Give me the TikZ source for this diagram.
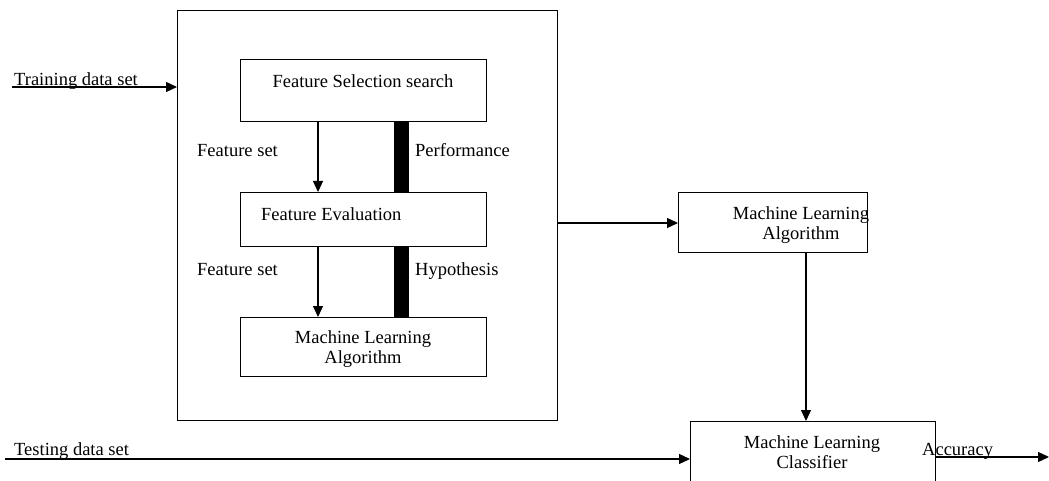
\documentclass[tikz,border=0pt]{standalone}
\usepackage{fontspec}
\setmainfont{Liberation Serif}
\usetikzlibrary{arrows.meta,positioning}
\begin{document}
\begin{tikzpicture}[x=1pt,y=-1pt,
  every node/.style={font=\fontsize{18.5}{19}\selectfont},
  blk/.style={draw,line width=1.4pt,inner sep=0pt},
  arr/.style={line width=1.2pt,-{Triangle[length=11pt,width=10pt]}},
  bar/.style={line width=15pt},
  two/.style={align=center,font=\fontsize{18.5}{19.5}\selectfont},
  lbl/.style={anchor=west,inner sep=0pt}]
\useasboundingbox (0,0) rectangle (1049,481);
\clip (0,0) rectangle (1049,481);
\fill[white] (0,0) rectangle (1049,481);
% outer box
\node[blk,minimum width=380pt,minimum height=410pt,anchor=north west] (outer) at (177,10) {};
% inner boxes
\node[blk,minimum width=246pt,minimum height=62pt,anchor=north west] (fss) at (240,59) {};
\node[anchor=base] (fsst) at (363,88) {Feature Selection search};
\node[blk,minimum width=246pt,minimum height=54pt,anchor=north west] (fe) at (240,192) {};
\node[lbl,anchor=base west] (fet) at (261,221) {Feature Evaluation};
\node[blk,minimum width=246pt,minimum height=59pt,anchor=north west] (mla1) at (240,317) {};
\node[two] (mla1t) at (363,349) {Machine Learning\\Algorithm};
% arrows inside
\coordinate (a1s) at (318,121);
\coordinate (a1e) at (318,192);
\draw[arr] (a1s) -- (a1e);
\coordinate (a2s) at (318,246);
\coordinate (a2e) at (318,317);
\draw[arr] (a2s) -- (a2e);
\coordinate (b1s) at (401,121);
\coordinate (b1e) at (401,192);
\draw[bar] (b1s) -- (b1e);
\coordinate (b2s) at (401,246);
\coordinate (b2e) at (401,317);
\draw[bar] (b2s) -- (b2e);
\node[lbl,anchor=base west] (fs1) at (197,157) {Feature set};
\node[lbl,anchor=base west] (fs2) at (197,275) {Feature set};
\node[lbl,anchor=base west] (perf) at (415,157) {Performance};
\node[lbl,anchor=base west] (hyp) at (415,275) {Hypothesis};
% training
\coordinate (tr) at (12,87);
\node[lbl,anchor=base west] (trt) at (14,86) {Training data set};
\draw[arr] (tr) -- (tr -| outer.west);
% right MLA
\node[blk,minimum width=189pt,minimum height=60pt,anchor=north west] (mla2) at (678,192) {};
\node[two] (mla2t) at (801,225) {Machine Learning\\Algorithm};
\coordinate (o2) at (557,223);
\draw[arr] (o2) -- (o2 -| mla2.west);
% classifier
\node[blk,minimum width=245pt,minimum height=80pt,anchor=north west] (clf) at (690,421) {};
\node[two] (clft) at (812,452) {Machine Learning\\Classifier};
\draw[arr] (mla2.south -| 806,0) -- (806,421);
% testing
\coordinate (te) at (5,459);
\node[lbl,anchor=base west] (tet) at (14,455) {Testing data set};
\draw[arr] (te) -- (te -| clf.west);
% accuracy
\coordinate (ac) at (935,457);
\coordinate (ace) at (1049,457);
\node[lbl,anchor=base west] (act) at (922,455) {Accuracy};
\draw[arr] (ac) -- (ace);
\end{tikzpicture}
\end{document}
